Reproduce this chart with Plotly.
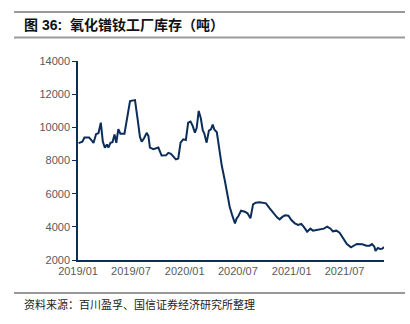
import plotly.graph_objects as go

dates = [
    "2019-01-03", "2019-01-16", "2019-01-23", "2019-02-08", "2019-02-15", "2019-02-23",
    "2019-03-04", "2019-03-12", "2019-03-20", "2019-03-27", "2019-04-03", "2019-04-10",
    "2019-04-15", "2019-04-22", "2019-04-29", "2019-05-06", "2019-05-12", "2019-05-19",
    "2019-05-26", "2019-06-09", "2019-06-28", "2019-07-15", "2019-07-24", "2019-08-01",
    "2019-08-07", "2019-08-15", "2019-08-24", "2019-08-30", "2019-09-04", "2019-09-16",
    "2019-10-03", "2019-10-14", "2019-10-29", "2019-11-06", "2019-11-15", "2019-12-02",
    "2019-12-10", "2019-12-18", "2019-12-27", "2020-01-05", "2020-01-13", "2020-01-21",
    "2020-01-28", "2020-02-05", "2020-02-11", "2020-02-18", "2020-02-25", "2020-03-03",
    "2020-03-08", "2020-03-16", "2020-03-24", "2020-03-31", "2020-04-06", "2020-04-11",
    "2020-04-20", "2020-04-29", "2020-05-07", "2020-05-17", "2020-05-25", "2020-06-03",
    "2020-06-11", "2020-06-21", "2020-06-27", "2020-07-03", "2020-07-12", "2020-07-25",
    "2020-08-03", "2020-08-13", "2020-08-22", "2020-08-31", "2020-09-14", "2020-10-05",
    "2020-10-18", "2020-11-01", "2020-11-12", "2020-11-21", "2020-12-01", "2020-12-10",
    "2020-12-21", "2020-12-31", "2021-01-12", "2021-01-23", "2021-02-03", "2021-02-11",
    "2021-02-23", "2021-03-06", "2021-03-15", "2021-03-27", "2021-04-09", "2021-04-21",
    "2021-05-03", "2021-05-14", "2021-05-22", "2021-06-03", "2021-06-14", "2021-06-26",
    "2021-07-09", "2021-07-23", "2021-08-01", "2021-08-12", "2021-08-31", "2021-09-14",
    "2021-09-25", "2021-10-03", "2021-10-11", "2021-10-15", "2021-10-23", "2021-10-31",
    "2021-11-07", "2021-11-13",
]
inventory = [
    9050, 9130, 9380, 9380, 9250, 9060,
    9600, 9640, 10280, 9135, 8770, 8970,
    8780, 9060, 9100, 9570, 9060, 9890,
    9620, 9620, 11580, 11640, 10500, 9420,
    9130, 9340, 9670, 9470, 8780, 8680,
    8780, 8300, 8310, 8460, 8400, 8070,
    8120, 9075, 9280, 9240, 10280, 10350,
    10100, 9680, 9960, 10990, 10560, 9810,
    9640, 9075, 9800, 9880, 10170, 9880,
    9700, 8560, 7680, 6825, 6060, 5215,
    4735, 4210, 4513, 4653, 4975, 4915,
    4814, 4513, 5357, 5457, 5477, 5417,
    5116, 4774, 4573, 4452, 4613, 4693,
    4673, 4412, 4211, 4110, 4171, 4010,
    3709, 3890, 3769, 3809, 3849, 3890,
    4010, 3890, 3729, 3769, 3648, 3307,
    2965, 2764, 2844, 2965, 2945, 2864,
    2864, 2965, 2804, 2543, 2724, 2663,
    2683, 2784,
]
x_range = ["2019-01-01", "2021-11-13"]
y_ticks = [2000, 4000, 6000, 8000, 10000, 12000, 14000]
y_tick_labels = ["2000", "4000", "6000", "8000", "10000", "12000", "14000"]

title_text = "<b>图 36:  氧化镨钕工厂库存（吨）</b>"
source_text = "资料来源：百川盈孚、国信证券经济研究所整理"

W, H = 410, 324
L, R, T, B = 78, 26, 61, 64
PW, PH = W - L - R, H - T - B


def px(x):
    return (x - L) / PW


def py(y):
    return (H - B - y) / PH


NAVY = "#0c2d5a"

fig = go.Figure()
fig.add_trace(go.Scatter(
    x=dates, y=inventory, mode="lines",
    line=dict(color=NAVY, width=2),
    hoverinfo="skip", showlegend=False,
))

fig.update_layout(
    width=W, height=H,
    margin=dict(l=L, r=R, t=T, b=B, pad=0),
    paper_bgcolor="white", plot_bgcolor="white",
    font=dict(family="Liberation Sans, Arial, Noto Sans CJK SC", size=11, color="#595959"),
    xaxis=dict(
        type="date", range=x_range, dtick="M6", tick0="2019-01-01",
        tickformat="%Y/%m", showgrid=False, zeroline=False,
        showline=True, linecolor=NAVY, linewidth=1.5,
        ticks="", tickfont=dict(size=11, color="#595959"),
    ),
    yaxis=dict(
        range=[2000, 14000], tickvals=y_ticks, ticktext=y_tick_labels,
        showgrid=False, zeroline=False,
        showline=True, linecolor=NAVY, linewidth=1.5,
        ticks="outside", ticklen=4, tickcolor=NAVY, tickwidth=1,
        tickfont=dict(size=11, color="#595959"),
    ),
    shapes=[
        dict(type="line", xref="paper", yref="paper", x0=px(14), x1=px(405),
             y0=py(12), y1=py(12), line=dict(color="#333333", width=1)),
        dict(type="line", xref="paper", yref="paper", x0=px(14), x1=px(405),
             y0=py(37.5), y1=py(37.5), line=dict(color="#9a9a9a", width=2)),
        dict(type="line", xref="paper", yref="paper", x0=px(14), x1=px(405),
             y0=py(293), y1=py(293), line=dict(color="#333333", width=1)),
    ],
    annotations=[
        dict(text=title_text, xref="paper", yref="paper", x=px(22), y=py(25),
             xanchor="left", yanchor="middle", showarrow=False,
             font=dict(family="Liberation Sans, Noto Sans CJK SC", size=14, color="#111111")),
        dict(text=source_text, xref="paper", yref="paper", x=px(22), y=py(304),
             xanchor="left", yanchor="middle", showarrow=False,
             font=dict(family="Noto Sans CJK SC", size=11, color="#222222")),
    ],
)

fig.write_html("out.html")
